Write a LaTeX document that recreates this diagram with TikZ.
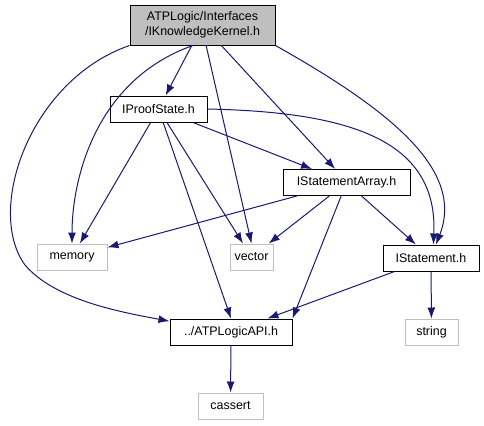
\documentclass[tikz,border=0pt]{standalone}
\usepackage{fontspec}
\setmainfont{Liberation Sans}
\usetikzlibrary{arrows.meta,positioning}
\definecolor{incedge}{HTML}{191970}
\definecolor{sysgray}{HTML}{BFBFBF}
\tikzset{
  filebox/.style={rectangle, draw=black, line width=1bp, fill=white, minimum height=26bp, inner sep=2bp, align=center, font=\fontsize{12.5}{15}\selectfont},
  sysbox/.style={filebox, draw=sysgray},
  rootbox/.style={filebox, fill=sysgray, minimum height=40bp},
  incl/.style={draw=incedge, line width=1bp, -{Latex[length=11bp,width=8bp]}},
}
\begin{document}
\begin{tikzpicture}[x=1bp,y=-1bp]
  \useasboundingbox (0,0) rectangle (484,425);
  \node[rootbox,minimum width=145bp,text width=141bp] (kernel) at (202.5,25) {ATPLogic/Interfaces\\/IKnowledgeKernel.h};
  \node[filebox,minimum width=97bp] (proof) at (158.5,109) {IProofState.h};
  \node[filebox,minimum width=127bp] (starray) at (346.5,182.5) {IStatementArray.h};
  \node[sysbox,minimum width=70bp] (memory) at (72,257) {memory};
  \node[sysbox,minimum width=43bp] (vector) at (251.5,257) {vector};
  \node[filebox,minimum width=96bp] (stmt) at (431,258) {IStatement.h};
  \node[filebox,minimum width=122bp] (api) at (231,332) {../ATPLogicAPI.h};
  \node[sysbox,minimum width=65bp] (cassert) at (230.5,406) {cassert};
  \node[sysbox,minimum width=53bp] (string) at (431.5,332) {string};
  % from IKnowledgeKernel.h
  \draw[incl] (kernel) -- (proof);
  \draw[incl] (kernel.-115) .. controls (95,80) and (72,180) .. (memory);
  \draw[incl] (kernel.south west) .. controls (30,80) and (-15,210) .. (25,265) .. controls (55,300) and (120,312) .. (api.170);
  \draw[incl] (kernel.-80) -- (vector.north);
  \draw[incl] (kernel) -- (starray.130);
  \draw[incl] (kernel.south east) .. controls (390,110) and (465,170) .. (stmt.70);
  % from IProofState.h
  \draw[incl] (proof) -- (memory);
  \draw[incl] (proof) -- (vector);
  \draw[incl] (proof) -- (api.north);
  \draw[incl] (proof) -- (starray);
  \draw[incl] (proof.east) .. controls (350,112) and (438,140) .. (stmt.80);
  % from IStatementArray.h
  \draw[incl] (starray) -- (memory);
  \draw[incl] (starray) -- (vector);
  \draw[incl] (starray) -- (api.north east);
  \draw[incl] (starray) -- (stmt);
  % from IStatement.h
  \draw[incl] (stmt) -- (api);
  \draw[incl] (stmt) -- (string);
  \draw[incl] (api) -- (cassert);
\end{tikzpicture}
\end{document}
